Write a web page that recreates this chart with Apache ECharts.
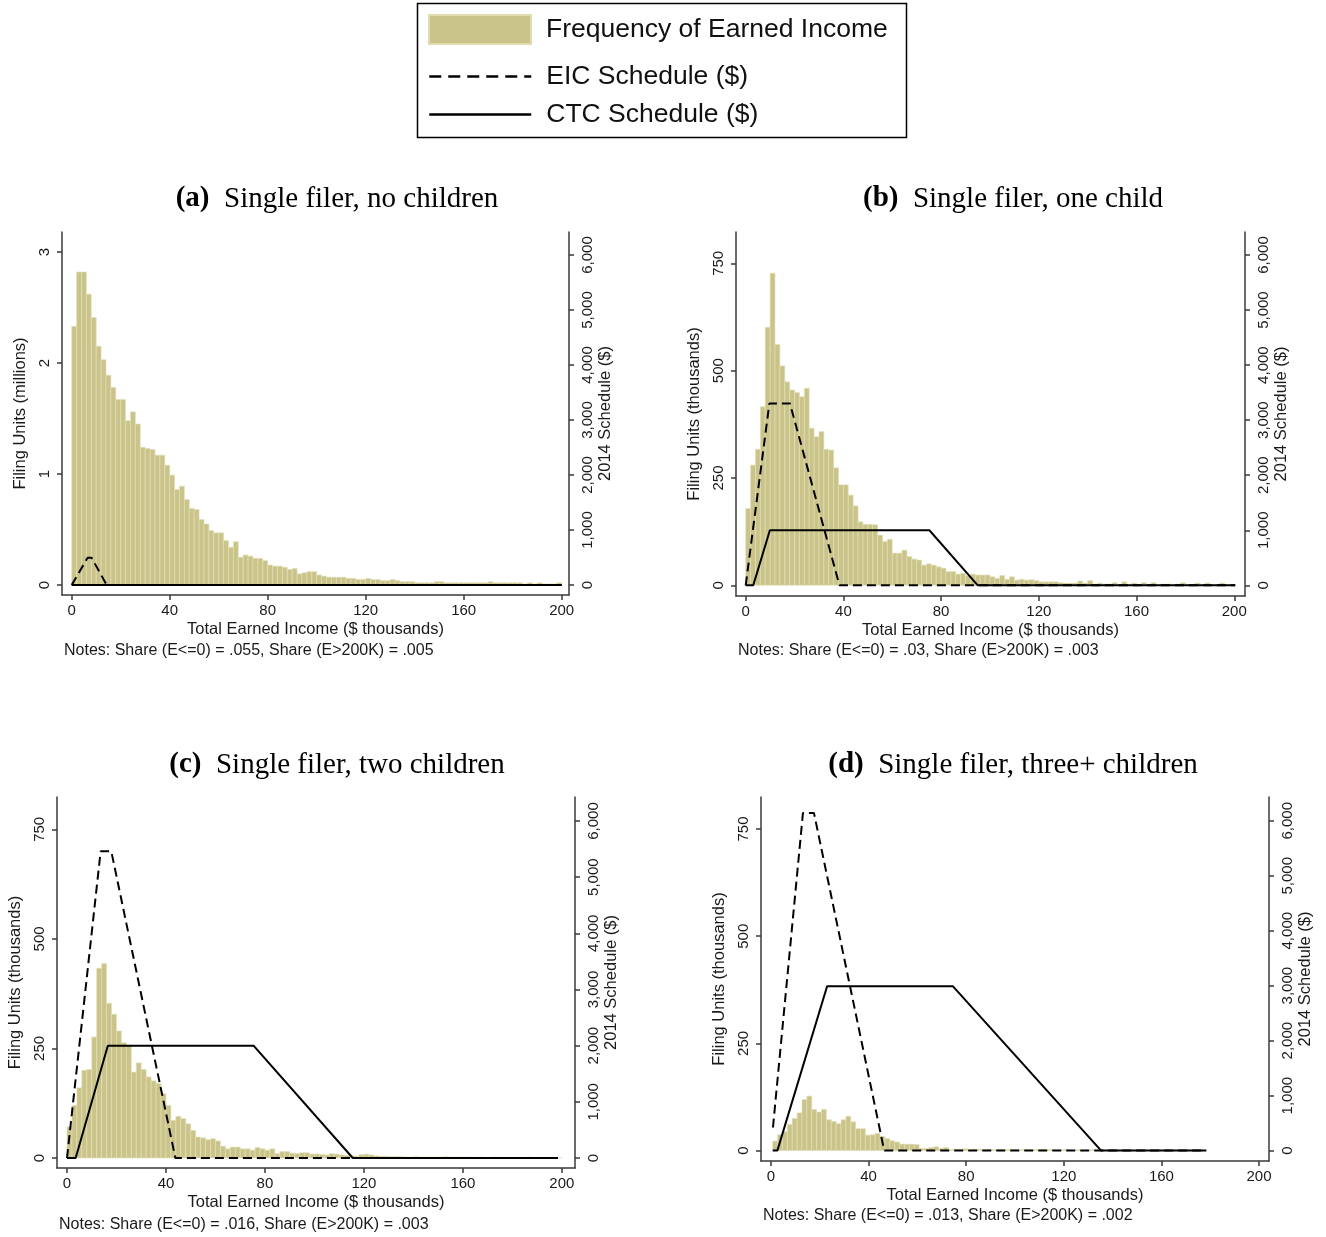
<!DOCTYPE html>
<html><head><meta charset="utf-8">
<script src="https://cdn.jsdelivr.net/npm/echarts@6/dist/echarts.min.js"></script>
<style>html,body{margin:0;padding:0;background:#fff}#c{width:1326px;height:1237px}</style>
</head><body><div id="c"></div>
<script>
// ---------------- DATA ----------------
const binWidth = 2; // $ thousands per histogram bin
const binStartA = 0, binStartB = 0, binStartC = 0, binStartD = 0.7;

// (a) Single filer, no children — filing units (millions)
const freqA = [2.33,2.82,2.82,2.62,2.41,2.15,2.03,1.89,1.78,1.67,
1.67,1.48,1.56,1.45,1.24,1.23,1.22,1.17,1.17,1.08,
0.99,0.86,0.89,0.77,0.69,0.68,0.59,0.55,0.49,0.47,
0.47,0.40,0.34,0.39,0.25,0.27,0.26,0.24,0.24,0.22,
0.18,0.17,0.17,0.16,0.14,0.15,0.10,0.11,0.12,0.12,
0.09,0.08,0.07,0.07,0.07,0.07,0.06,0.06,0.05,0.05,
0.06,0.05,0.05,0.04,0.04,0.05,0.04,0.03,0.03,0.03,
0.02,0.02,0.02,0.02,0.03,0.03,0.02,0.02,0.02,0.02,
0.02,0.02,0.02,0.02,0.02,0.03,0.02,0.02,0.02,0.02,
0.02,0.02,0.01,0.02,0.01,0.02,0.01,0.01,0.01,0.02];

// (b) Single filer, one child — filing units (thousands)
const freqB = [179,280,317,416,601,727,561,511,474,455,
449,439,459,366,346,358,317,315,274,234,
234,210,185,148,142,142,141,117,102,107,
75,75,82,67,61,59,47,50,47,43,
40,32,32,26,28,22,26,24,24,24,
20,16,23,14,20,12,14,12,13,11,
8,8,8,8,6,5,5,5,10,5,
11,3,5,3,3,6,2,8,2,5,
2,6,2,6,2,3,3,1,3,6,
1,2,5,1,5,1,1,5,1,2];

// (c) Single filer, two children — filing units (thousands)
const freqC = [71,120,160,200,202,276,433,444,353,328,
290,263,257,196,217,202,185,176,170,147,
120,86,95,90,78,63,48,46,42,44,
39,27,21,25,25,21,21,18,24,21,
18,21,10,15,15,11,10,12,12,9,
9,8,7,10,9,7,6,5,4,8,
9,7,5,4,4,3,3,3,2,2,
3,2,2,2,2,2,3,2,2,2,
2,2,1,2,1,1,2,1,1,1,
1,1,1,2,1,1,1,1,1,0];

// (d) Single filer, three+ children — filing units (thousands)
const freqD = [22,37,44,61,75,88,119,127,96,90,
96,72,68,63,72,80,67,51,51,36,
37,40,33,28,23,20,15,15,15,14,
5,5,7,9,5,7,2,3,3,4,
2,3,3,2,3,2,3,2,2,3,
2,2,2,2,2,3,2,2,1,2,
2,1,2,1,1,2,1,1,1,2,
1,1,1,1,1,1,1,1,1,1,
1,1,1,1,1,1,1,1,1];

// 2014 schedules ($) as [income ($ thousands), amount ($)]
const eicA = [[0,0],[6.5,496],[8.1,496],[14.3,0],[200,0]];
const ctcA = [[0,0],[200,0]];
const eicB = [[0,0],[9.7,3305],[18.1,3305],[38.4,0],[200.4,0]];
const ctcB = [[0,0],[3.1,0],[9.9,1000],[75.2,1000],[95,0],[200.4,0]];
const eicC = [[0,0],[13.6,5460],[17.9,5460],[43.8,0],[198.4,0]];
const ctcC = [[0,0],[3.5,0],[16.5,2000],[75.4,2000],[115.5,0],[198.4,0]];
const eicD = [[0.8,420],[13.1,6143],[17.6,6143],[46.4,0],[178.4,0]];
const ctcD = [[0.7,0],[2.6,0],[23,2991],[74.5,2991],[135.3,0],[178.4,0]];

// tick labels
const xTicks = [0,40,80,120,160,200];
const yTicksMillions = [0,1,2,3];
const yTicksThousands = [0,250,500,750];
const yTicksSchedule = [0,1000,2000,3000,4000,5000,6000];

const panelLetters = ['(a)','(b)','(c)','(d)'];
const panelTitles = ['Single filer, no children','Single filer, one child','Single filer, two children','Single filer, three+ children'];
const notesText = ['Notes: Share (E<=0) = .055, Share (E>200K) = .005',
                   'Notes: Share (E<=0) = .03, Share (E>200K) = .003',
                   'Notes: Share (E<=0) = .016, Share (E>200K) = .003',
                   'Notes: Share (E<=0) = .013, Share (E>200K) = .002'];
const leftAxisNames = ['Filing Units (millions)','Filing Units (thousands)','Filing Units (thousands)','Filing Units (thousands)'];
const rightAxisName = '2014 Schedule ($)';
const xAxisName = 'Total Earned Income ($ thousands)';
const seriesNames = ['Frequency of Earned Income','EIC Schedule ($)','CTC Schedule ($)'];

// ---------------- LAYOUT ----------------
const SANS = '"Liberation Sans", Arial, Helvetica, sans-serif';
const SERIF = '"Liberation Serif", "Times New Roman", serif';
const TXT = '#1a1a1a';
const AX = '#3a3a3a';
const BAR = '#cbc48a';
const BAR_EDGE = '#e3e0b8';

const panels = [
  {grid:{left:62,top:232,width:507,height:363}, x:[-3.96,203.0], yl:[-0.09,3.18], yr:[-182,6418],
   freq:freqA, start:binStartA, eic:eicA, ctc:ctcA, yTicks:yTicksMillions,
   titleX:337, titleY:199, notesX:64, notesY:651},
  {grid:{left:736,top:232,width:509,height:364}, x:[-3.97,204.4], yl:[-24.9,823], yr:[-194,6418],
   freq:freqB, start:binStartB, eic:eicB, ctc:ctcB, yTicks:yTicksThousands,
   titleX:1013, titleY:199, notesX:738, notesY:651},
  {grid:{left:57,top:797,width:518,height:371}, x:[-4.04,205.3], yl:[-22.8,823.7], yr:[-178,6427],
   freq:freqC, start:binStartC, eic:eicC, ctc:ctcC, yTicks:yTicksThousands,
   titleX:337, titleY:765, notesX:59, notesY:1225},
  {grid:{left:761,top:797,width:508,height:364}, x:[-4.1,204.1], yl:[-24.3,824.7], yr:[-189,6432],
   freq:freqD, start:binStartD, eic:eicD, ctc:ctcD, yTicks:yTicksThousands,
   titleX:1013, titleY:765, notesX:763, notesY:1216}
];

function binTable(freq, start){
  return freq.map((v,i)=>[start+i*binWidth, start+(i+1)*binWidth, v]);
}

const grids=[], xAxes=[], yAxes=[], series=[], graphics=[];
const axisCommon = {
  axisLine:{show:true, onZero:false, lineStyle:{color:AX, width:1.5}},
  axisTick:{show:true, length:5, lineStyle:{color:AX, width:1.5}},
  splitLine:{show:false}
};

panels.forEach((p,i)=>{
  grids.push(Object.assign({containLabel:false}, p.grid));
  xAxes.push(Object.assign({}, axisCommon, {
    type:'value', gridIndex:i, min:p.x[0], max:p.x[1], position:'bottom',
    axisTick:Object.assign({}, axisCommon.axisTick, {customValues:xTicks}),
    axisLabel:{customValues:xTicks, fontFamily:SANS, fontSize:15, color:TXT, margin:8},
    name:xAxisName, nameLocation:'middle', nameGap:26,
    nameTextStyle:{fontFamily:SANS, fontSize:16.5, color:TXT}
  }));
  yAxes.push(Object.assign({}, axisCommon, {
    type:'value', gridIndex:i, min:p.yl[0], max:p.yl[1], position:'left',
    axisTick:Object.assign({}, axisCommon.axisTick, {customValues:p.yTicks}),
    axisLabel:{customValues:p.yTicks, rotate:90, fontFamily:SANS, fontSize:15, color:TXT, margin:10},
    name:leftAxisNames[i], nameLocation:'middle', nameGap:33, nameRotate:90,
    nameTextStyle:{fontFamily:SANS, fontSize:16.5, color:TXT}
  }));
  yAxes.push(Object.assign({}, axisCommon, {
    type:'value', gridIndex:i, min:p.yr[0], max:p.yr[1], position:'right',
    axisTick:Object.assign({}, axisCommon.axisTick, {customValues:yTicksSchedule}),
    axisLabel:{customValues:yTicksSchedule, rotate:90, fontFamily:SANS, fontSize:15, color:TXT, margin:11,
      formatter:v=>Number(v).toLocaleString('en-US')},
    name:rightAxisName, nameLocation:'middle', nameGap:28, nameRotate:90,
    nameTextStyle:{fontFamily:SANS, fontSize:16.5, color:TXT}
  }));
  series.push({
    type:'custom', name:seriesNames[0], xAxisIndex:i, yAxisIndex:2*i, clip:true,
    itemStyle:{color:BAR},
    encode:{x:[0,1], y:2},
    data:binTable(p.freq, p.start),
    renderItem:function(params, api){
      const a = api.coord([api.value(0), 0]);
      const b = api.coord([api.value(1), api.value(2)]);
      return {type:'rect', shape:{x:a[0], y:b[1], width:b[0]-a[0], height:a[1]-b[1]},
        style:{fill:BAR, stroke:BAR_EDGE, lineWidth:0.6}};
    },
    z:1
  });
  series.push({
    type:'line', name:seriesNames[1], xAxisIndex:i, yAxisIndex:2*i+1, data:p.eic,
    symbol:'none', showSymbol:false, clip:true, color:'#000',
    lineStyle:{color:'#000', width:2, type:[9,5]}, z:3
  });
  series.push({
    type:'line', name:seriesNames[2], xAxisIndex:i, yAxisIndex:2*i+1, data:p.ctc,
    symbol:'none', showSymbol:false, clip:true, color:'#000',
    lineStyle:{color:'#000', width:2, type:'solid'}, z:3
  });
  graphics.push({type:'text', x:p.titleX, y:p.titleY, style:{
    text:'{b|'+panelLetters[i]+'}  '+panelTitles[i], align:'center', verticalAlign:'middle',
    font:'29px '+SERIF, fill:'#000',
    rich:{b:{fontWeight:'bold', fontFamily:SERIF, fontSize:29, fill:'#000'}}
  }});
  graphics.push({type:'text', x:p.notesX, y:p.notesY, style:{
    text:notesText[i], align:'left', verticalAlign:'middle', font:'16px '+SANS, fill:TXT
  }});
});

graphics.push({type:'rect', shape:{x:417.5, y:3.5, width:489, height:134},
  style:{fill:'none', stroke:'#000', lineWidth:1.5}, z:-1});

const legendText = {fontFamily:SANS, fontSize:26.5, color:'#111', padding:[0,0,0,10]};
const hiddenSymbol = {color:'rgba(0,0,0,0)', borderWidth:0, opacity:0};
const option = {
  backgroundColor:'#fff',
  animation:false,
  grid:grids, xAxis:xAxes, yAxis:yAxes, series:series, graphic:graphics,
  legend:[
    {data:[seriesNames[0]], left:428, top:14, padding:0, itemWidth:102, itemHeight:29, icon:'rect',
     selectedMode:false, itemStyle:{borderColor:'#e0dcae', borderWidth:2}, textStyle:legendText},
    {data:[seriesNames[1]], left:428, top:63, padding:0, itemWidth:102, itemHeight:29,
     selectedMode:false, itemStyle:hiddenSymbol, lineStyle:{width:2.5, type:[12,7]}, textStyle:legendText},
    {data:[seriesNames[2]], left:428, top:101, padding:0, itemWidth:102, itemHeight:29,
     selectedMode:false, itemStyle:hiddenSymbol, lineStyle:{width:2.5}, textStyle:legendText}
  ]
};
const chart = echarts.init(document.getElementById('c'), null, {renderer:'canvas'});
chart.setOption(option);
</script></body></html>
